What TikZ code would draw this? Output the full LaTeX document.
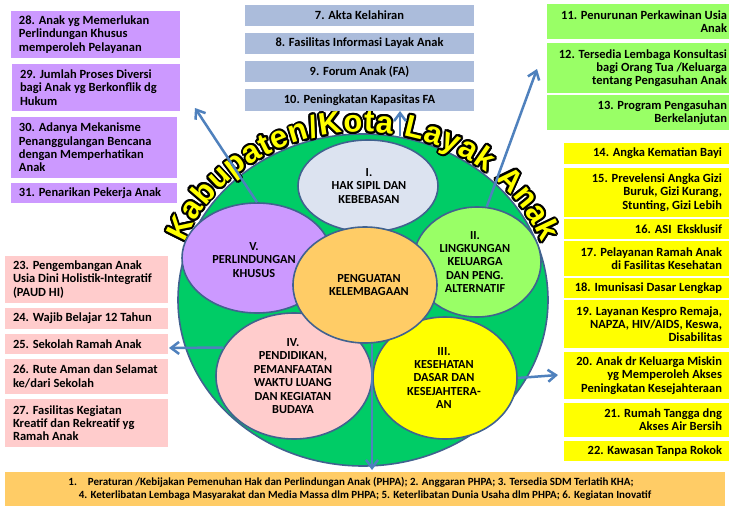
\documentclass[tikz,border=0pt]{standalone}
\usepackage{fontspec}
\setmainfont{Carlito}
\newfontfamily\titlefont{Liberation Sans}
\usetikzlibrary{shapes.geometric,arrows.meta,decorations.text,fit}

\definecolor{cpurple}{HTML}{CC99FF}
\definecolor{cblue}{HTML}{ABBCDB}
\definecolor{cgreen}{HTML}{99FF66}
\definecolor{cyellow}{HTML}{FFFF00}
\definecolor{cpink}{HTML}{FFCCCC}
\definecolor{corange}{HTML}{FFCC66}
\definecolor{cbig}{HTML}{00CC66}
\definecolor{cpale}{HTML}{DCE3F0}
\definecolor{cedge}{HTML}{41628F}
\definecolor{carrow}{HTML}{4F81BD}

% name, colour, x1, y1, x2, y2, margin, text
\newcommand{\kbl}[8]{%
  \node[fit={(#3,-#4) (#5,-#6)}, inner sep=0pt, fill=#2] (#1) {};
  \node[btext, anchor=west, align=left] (#1t) at ([xshift=#7pt]#1.west) {#8};}
\newcommand{\kbr}[8]{%
  \node[fit={(#3,-#4) (#5,-#6)}, inner sep=0pt, fill=#2] (#1) {};
  \node[btext, anchor=east, align=right] (#1t) at ([xshift=-#7pt]#1.east) {#8};}
\newcommand{\kbc}[8]{%
  \node[fit={(#3,-#4) (#5,-#6)}, inner sep=0pt, fill=#2] (#1) {};
  \node[btext, align=center] (#1t) at ([xshift=#7pt]#1.center) {#8};}

\begin{document}
\begin{tikzpicture}[x=1pt,y=1pt,
  btext/.style={inner sep=0pt, font=\bfseries\fontsize{12.5}{13.3}\selectfont},
  lab/.style={align=center, inner sep=0pt, font=\bfseries\fontsize{12.3}{13.4}\selectfont},
  ell/.style={ellipse, draw=cedge, line width=1.6pt, inner sep=0pt},
  arr/.style={draw=carrow, line width=2.5pt, -{Straight Barb[length=8pt,width=12pt]}},
  titlepath/.style={decorate, decoration={text along path,
     text={|\titlefont\bfseries\fontsize{31}{31}\selectfont|Kabupaten/Kota Layak Anak},
     text align=fit to path, text color=#1}}]
\useasboundingbox (0,0) rectangle (729,-506);
\fill[white] (0,0) rectangle (729,-506);

% big green ellipse
\node[ell, fill=cbig, minimum width=370pt, minimum height=332pt] (G) at (363,-300) {};

% title arc: black outline then yellow
\foreach \a in {0,20,...,340}{
  \path[titlepath=black] ([shift={(\a:2)}]363,-300) ++(160:190 and 168)
     arc[start angle=160, end angle=20, x radius=190, y radius=168];
}
\path[titlepath=cyellow] (363,-300) ++(160:190 and 168)
     arc[start angle=160, end angle=20, x radius=190, y radius=168];

% inner ellipses
\node[ell, fill=cpale, minimum width=140pt, minimum height=92pt] (E1) at (368,-186) {};
\node[ell, fill=cpurple, minimum width=150pt, minimum height=110pt] (E5) at (257,-258) {};
\node[ell, fill=cgreen, minimum width=128pt, minimum height=110pt] (E2) at (477,-262) {};
\node[ell, fill=cpink, minimum width=156pt, minimum height=126pt] (E4) at (294,-376) {};
\node[ell, fill=cyellow, minimum width=144pt, minimum height=122pt] (E3) at (445,-378) {};
\node[ell, fill=corange, minimum width=144pt, minimum height=116pt] (EC) at (365,-285) {};

% labels
\node[lab] (t1) at (369,-186) {I.\\HAK SIPIL DAN\\KEBEBASAN};
\node[lab] (t5) at (254,-260) {V.\\PERLINDUNGAN\\KHUSUS};
\node[lab] (t2) at (475,-262) {II.\\LINGKUNGAN\\KELUARGA\\DAN PENG.\\ALTERNATIF};
\node[lab] (tc) at (369,-285) {PENGUATAN\\KELEMBAGAAN};
\node[lab] (t4) at (293,-376) {IV.\\PENDIDIKAN,\\PEMANFAATAN\\WAKTU LUANG\\DAN KEGIATAN\\BUDAYA};
\node[lab] (t3) at (444,-378) {III.\\KESEHATAN\\DASAR DAN\\KESEJAHTERA-\\AN};

% arrows
\coordinate (a1) at (195,-108);
\draw[arr] (E5.north) -- (a1);
\coordinate (a2s) at (400,-136);
\coordinate (a2) at (400,-111);
\draw[arr] (a2s) -- (a2);
\coordinate (a3) at (537,-69);
\draw[arr] (E2.80) -- (a3);
\coordinate (a4) at (169,-348);
\draw[arr] (E4.158) -- (a4);
\coordinate (a5) at (558,-375);
\draw[arr] (E3.east) -- (a5);
\coordinate (a6) at (372,-470);
\draw[arr] (EC.south -| a6) -- (a6);

% purple boxes
\kbl{b28}{cpurple}{11}{11}{180}{58}{8}{28. Anak yg Memerlukan\\Perlindungan Khusus\\memperoleh Pelayanan}
\kbl{b29}{cpurple}{12}{64}{180}{111}{8}{29. Jumlah Proses Diversi\\bagi Anak yg Berkonflik dg\\Hukum}
\kbl{b30}{cpurple}{11}{117}{177}{178}{8}{30. Adanya Mekanisme\\Penanggulangan Bencana\\dengan Memperhatikan\\Anak}
\kbl{b31}{cpurple}{11}{183}{177}{203}{8}{31. Penarikan Pekerja Anak}

% blue boxes
\kbc{b7}{cblue}{245}{5}{474}{26}{0}{7. Akta Kelahiran}
\kbc{b8}{cblue}{245}{33}{474}{54}{0}{8. Fasilitas Informasi Layak Anak}
\kbc{b9}{cblue}{245}{61}{474}{82}{0}{9. Forum Anak (FA)}
\kbc{b10}{cblue}{245}{89}{474}{111}{0}{10. Peningkatan Kapasitas FA}

% green boxes
\kbr{b11}{cgreen}{547}{4}{729}{39}{2}{11. Penurunan Perkawinan Usia\\Anak}
\kbr{b12}{cgreen}{547}{43}{729}{93}{2}{12. Tersedia Lembaga Konsultasi\\bagi Orang Tua /Keluarga\\tentang Pengasuhan Anak}
\kbr{b13}{cgreen}{547}{95}{729}{130}{2}{13. Program Pengasuhan\\Berkelanjutan}

% yellow boxes
\kbr{b14}{cyellow}{564}{143}{729}{164}{7}{14. Angka Kematian Bayi}
\kbr{b15}{cyellow}{564}{168}{729}{217}{7}{15. Prevelensi Angka Gizi\\Buruk, Gizi Kurang,\\Stunting, Gizi Lebih}
\kbr{b16}{cyellow}{564}{219}{729}{239}{7}{16. ASI\ \ Eksklusif}
\kbr{b17}{cyellow}{564}{241}{729}{276}{7}{17. Pelayanan Ramah Anak\\di Fasilitas Kesehatan}
\kbr{b18}{cyellow}{564}{278}{729}{298}{7}{18. Imunisasi Dasar Lengkap}
\kbr{b19}{cyellow}{564}{300}{729}{348}{7}{19. Layanan Kespro Remaja,\\NAPZA, HIV/AIDS, Keswa,\\Disabilitas}
\kbr{b20}{cyellow}{564}{352}{729}{399}{7}{20. Anak dr Keluarga Miskin\\yg Memperoleh Akses\\Peningkatan Kesejahteraan}
\kbr{b21}{cyellow}{564}{403}{729}{437}{7}{21. Rumah Tangga dng\\Akses Air Bersih}
\kbr{b22}{cyellow}{564}{441}{729}{461}{7}{22. Kawasan Tanpa Rokok}

% pink boxes
\kbl{b23}{cpink}{5}{256}{168}{303}{8}{23. Pengembangan Anak\\Usia Dini Holistik-Integratif\\(PAUD HI)}
\kbl{b24}{cpink}{5}{308}{168}{329}{8}{24. Wajib Belajar 12 Tahun}
\kbl{b25}{cpink}{5}{334}{168}{354}{8}{25. Sekolah Ramah Anak}
\kbl{b26}{cpink}{5}{359}{168}{394}{8}{26. Rute Aman dan Selamat\\ke/dari Sekolah}
\kbl{b27}{cpink}{5}{399}{168}{447}{8}{27. Fasilitas Kegiatan\\Kreatif dan Rekreatif yg\\Ramah Anak}

% bottom box
\node[fit={(5,-472) (725,-506)}, inner sep=0pt, fill=corange] (bb) {};
\node[inner sep=0pt, align=center, font=\bfseries\fontsize{11}{13.3}\selectfont] (bbt) at (bb.center)
  {1.\hspace{1em}Peraturan /Kebijakan Pemenuhan Hak dan Perlindungan Anak (PHPA); 2. Anggaran PHPA; 3. Tersedia SDM Terlatih KHA;\hspace*{28pt}\\4. Keterlibatan Lembaga Masyarakat dan Media Massa dlm PHPA; 5. Keterlibatan Dunia Usaha dlm PHPA; 6. Kegiatan Inovatif};
\end{tikzpicture}
\end{document}
